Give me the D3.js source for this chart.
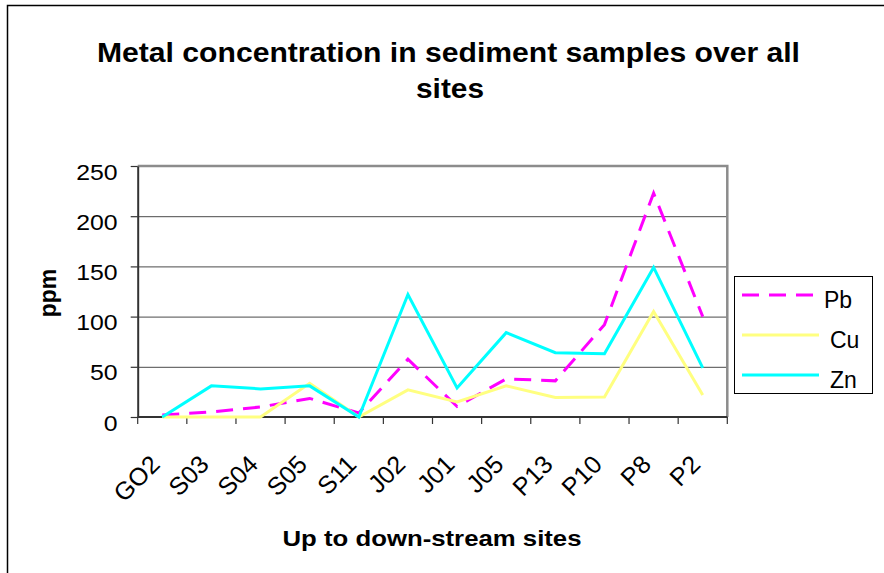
<!DOCTYPE html>
<html>
<head>
<meta charset="utf-8">
<script src="https://cdn.jsdelivr.net/npm/d3@7/dist/d3.min.js"></script>
<style>
  html, body { margin: 0; padding: 0; background: #fff; }
  svg { display: block; font-family: "Liberation Sans", Arial, sans-serif; }
</style>
</head>
<body>
<svg id="chart" width="884" height="573"></svg>
<script>
const sites = ["GO2","S03","S04","S05","S11","J02","J01","J05","P13","P10","P8","P2"];
const pbValues = [2, 5, 10, 18.5, 4, 57.5, 10.5, 38, 36, 92, 223, 100];
const cuValues = [0, 0, 0, 33.5, 0, 27, 15, 31, 19.5, 20, 105, 22];
const znValues = [0, 31, 28, 31, 0, 122, 29, 84, 64, 63, 149, 49];
const yTicks = [0, 50, 100, 150, 200, 250];
const seriesNames = ["Pb", "Cu", "Zn"];

(function () {
const series = [
  { name: seriesNames[0], values: pbValues, color: "#ff00ff", dash: "17,10" },
  { name: seriesNames[1], values: cuValues, color: "#ffff80", dash: null },
  { name: seriesNames[2], values: znValues, color: "#00ffff", dash: null }
];

const svg = d3.select("#chart");
const pLeft = 137.7, pRight = 727.3, pTop = 166, pBottom = 417;

// outer chart frame
svg.append("rect").attr("x", 7.5).attr("y", 5.5).attr("width", 1000).attr("height", 1000)
  .attr("fill", "none").attr("stroke", "#000").attr("stroke-width", 1.5);

const x = d3.scaleBand().domain(sites).range([pLeft, pRight]).paddingInner(0).paddingOuter(0);
const y = d3.scaleLinear().domain([0, 250]).range([pBottom, pTop]);
const cx = d => x(d) + x.bandwidth() / 2;

// gridlines
svg.append("g").attr("transform", `translate(${pLeft},0)`)
  .call(d3.axisLeft(y).tickValues(yTicks.filter(v => v > 0 && v < 250)).tickSize(-(pRight - pLeft)).tickFormat(""))
  .call(g => g.select(".domain").remove())
  .call(g => g.selectAll("line").attr("stroke", "#4a4a4a").attr("stroke-width", 1));

// plot border top/right (gray)
svg.append("path")
  .attr("d", `M${pLeft},${y(250)}H${pRight}V${pBottom}`)
  .attr("fill", "none").attr("stroke", "#8c8c8c").attr("stroke-width", 2.5);

// y axis
const yAxis = svg.append("g").attr("transform", `translate(${pLeft},0)`)
  .call(d3.axisLeft(y).tickValues(yTicks).tickSize(7).tickSizeOuter(0));
yAxis.select(".domain").attr("stroke", "#333").attr("stroke-width", 2);
yAxis.selectAll(".tick line").attr("stroke", "#333").attr("stroke-width", 1.2);
yAxis.selectAll(".tick text")
  .attr("x", 0).attr("dy", null).attr("y", 0)
  .attr("text-anchor", "end")
  .attr("font-size", 22).attr("fill", "#000")
  .attr("font-family", "Liberation Sans, Arial, sans-serif")
  .attr("transform", "translate(-20,13) scale(1.13,1)");

// x axis line and ticks at category boundaries
svg.append("line").attr("x1", pLeft).attr("x2", pRight).attr("y1", pBottom).attr("y2", pBottom)
  .attr("stroke", "#333").attr("stroke-width", 2);
const boundaries = sites.map(s => x(s)).concat([x(sites[sites.length - 1]) + x.bandwidth()]);
svg.append("g").selectAll("line").data(boundaries).join("line")
  .attr("x1", d => d).attr("x2", d => d).attr("y1", pBottom).attr("y2", pBottom + 7)
  .attr("stroke", "#333").attr("stroke-width", 1.2);

// x labels
svg.append("g").selectAll("text").data(sites).join("text")
  .attr("transform", d => `translate(${cx(d) - 1},466) rotate(-45)`)
  .attr("text-anchor", "end").attr("font-size", 25).attr("fill", "#000")
  .text(d => d);

// lines
const line = d3.line().x((d, i) => cx(sites[i])).y(d => y(d));
series.forEach(s => {
  svg.append("path").datum(s.values)
    .attr("d", line)
    .attr("fill", "none").attr("stroke", s.color).attr("stroke-width", 3)
    .attr("stroke-linejoin", "miter")
    .attr("stroke-dasharray", s.dash);
});

// title
svg.append("text").attr("x", 448.5).attr("y", 62).attr("text-anchor", "middle")
  .attr("font-size", 27).attr("font-weight", "bold")
  .attr("textLength", 703).attr("lengthAdjust", "spacingAndGlyphs")
  .text("Metal concentration in sediment samples over all");
svg.append("text").attr("x", 450).attr("y", 98).attr("text-anchor", "middle")
  .attr("font-size", 27).attr("font-weight", "bold")
  .attr("textLength", 68).attr("lengthAdjust", "spacingAndGlyphs")
  .text("sites");

// axis titles
svg.append("text").attr("transform", "translate(56,293) rotate(-90)")
  .attr("text-anchor", "middle").attr("font-size", 23).attr("font-weight", "bold")
  .text("ppm");
svg.append("text").attr("x", 432).attr("y", 546).attr("text-anchor", "middle")
  .attr("font-size", 22).attr("font-weight", "bold")
  .attr("textLength", 299).attr("lengthAdjust", "spacingAndGlyphs")
  .text("Up to down-stream sites");

// legend
const lg = svg.append("g");
lg.append("rect").attr("x", 734.5).attr("y", 276.5).attr("width", 138).attr("height", 117)
  .attr("fill", "#fff").attr("stroke", "#000").attr("stroke-width", 1);
const legY = d3.scalePoint().domain(seriesNames).range([295, 375]);
series.forEach(s => {
  lg.append("line").attr("x1", 742).attr("x2", 819)
    .attr("y1", legY(s.name)).attr("y2", legY(s.name))
    .attr("stroke", s.color).attr("stroke-width", 3)
    .attr("stroke-dasharray", s.dash);
  lg.append("text").attr("x", s.name === "Pb" ? 824 : 830).attr("y", legY(s.name) + 13)
    .attr("font-size", 23).attr("fill", "#000").text(s.name);
});
})();
</script>
</body>
</html>
